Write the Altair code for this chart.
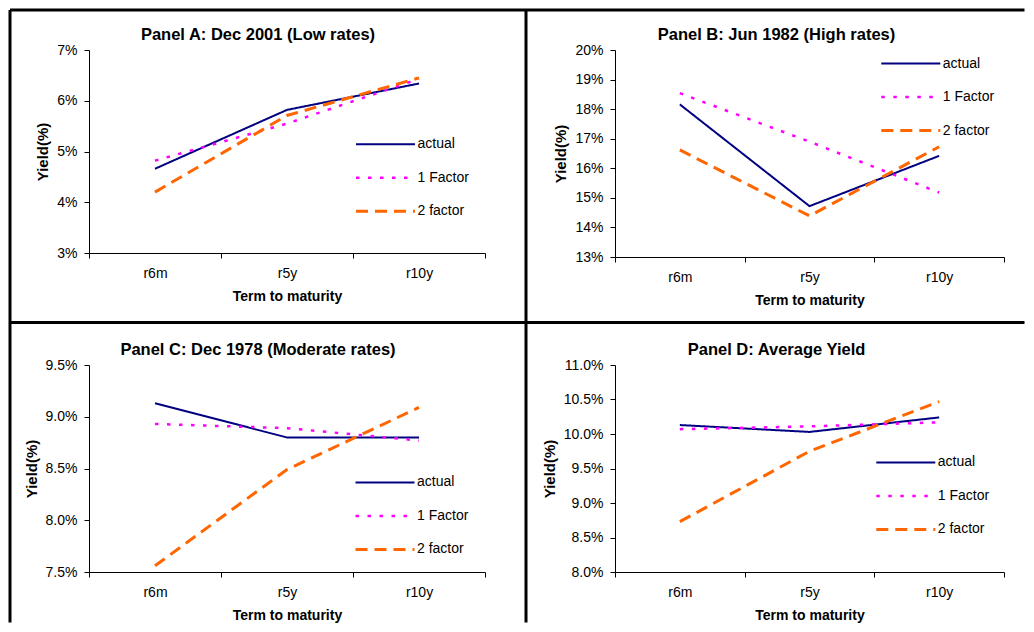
import altair as alt
import pandas as pd

# ---------------- data ----------------
terms = ["r6m", "r5y", "r10y"]
series_names = ["actual", "1 Factor", "2 factor"]

a_actual = [4.66, 5.82, 6.34]
a_one = [4.82, 5.55, 6.43]
a_two = [4.20, 5.71, 6.45]

b_actual = [18.16, 14.72, 16.42]
b_one = [18.54, 16.90, 15.18]
b_two = [16.62, 14.39, 16.73]

c_actual = [9.13, 8.80, 8.80]
c_one = [8.93, 8.89, 8.77]
c_two = [7.56, 8.49, 9.09]

d_actual = [10.13, 10.03, 10.24]
d_one = [10.07, 10.11, 10.17]
d_two = [8.73, 9.75, 10.47]

a_ticks = [3, 4, 5, 6, 7]
b_ticks = [13, 14, 15, 16, 17, 18, 19, 20]
c_ticks = [7.5, 8.0, 8.5, 9.0, 9.5]
d_ticks = [8.0, 8.5, 9.0, 9.5, 10.0, 10.5, 11.0]

titles = [
    "Panel A: Dec 2001 (Low rates)",
    "Panel B: Jun 1982 (High rates)",
    "Panel C: Dec 1978 (Moderate rates)",
    "Panel D: Average Yield",
]

# ---------------- style ----------------
FONT = "Liberation Sans"
colors = ["#000080", "#FF00FF", "#FF6600"]
dashes = [[1, 0], [3.5, 8.5], [12, 7]]
widths = [2, 3, 2.5]
one_row = alt.Data(values=[{"k": 0}])


def panel(title, actual, one, two, ticks, decimals, w, h, lx, ly, tx, borders=False):
    df = pd.DataFrame({
        "term": terms * 3,
        "series": [series_names[0]] * 3 + [series_names[1]] * 3 + [series_names[2]] * 3,
        "y": actual + one + two,
    })
    leg = alt.Legend(
        orient="none", legendX=lx, legendY=ly, title=None, symbolType="stroke",
        symbolSize=3481, labelFont=FONT, labelFontSize=14, labelColor="black",
        labelOffset=1, clipHeight=20, rowPadding=13.5, padding=0,
    )
    lines = alt.Chart(df).mark_line().encode(
        x=alt.X(
            "term:N", sort=terms, bandPosition=0.5,
            scale=alt.Scale(type="band", domain=terms, paddingInner=0, paddingOuter=0),
            axis=alt.Axis(
                title="Term to maturity", tickBand="extent", labelAngle=0,
                labelFont=FONT, labelFontSize=14, labelColor="black", labelPadding=8,
                titleFont=FONT, titleFontSize=14, titleFontWeight="bold", titleColor="black",
                titlePadding=9, domainColor="black", tickColor="black", tickSize=5,
                grid=False,
            ),
        ),
        y=alt.Y(
            "y:Q",
            scale=alt.Scale(domain=[ticks[0], ticks[-1]], nice=False, zero=False),
            axis=alt.Axis(
                values=ticks, title="Yield(%)",
                labelExpr="format(datum.value, '.%df') + '%%'" % decimals,
                labelFont=FONT, labelFontSize=14, labelColor="black", labelPadding=7,
                titleFont=FONT, titleFontSize=15, titleFontWeight="bold", titleColor="black",
                titlePadding=6, domainColor="black", tickColor="black", tickSize=5,
                grid=False,
            ),
        ),
        color=alt.Color("series:N", scale=alt.Scale(domain=series_names, range=colors), legend=leg),
        strokeDash=alt.StrokeDash("series:N", scale=alt.Scale(domain=series_names, range=dashes), legend=leg),
        strokeWidth=alt.StrokeWidth("series:N", scale=alt.Scale(domain=series_names, range=widths), legend=leg),
    )
    head = alt.Chart(one_row).mark_text(
        font=FONT, fontSize=16.5, fontWeight="bold", color="black",
        align="center", baseline="alphabetic",
    ).encode(x=alt.value(tx), y=alt.value(-10.5), text=alt.value(title))
    layers = [lines, head]
    if borders:
        bw = 3
        left, top, right, bottom = -79, -40, 935.5, 572.5
        midx, midy = 437, 272.5
        rule = alt.Chart(one_row).mark_rule(color="black", strokeWidth=bw)
        layers += [
            rule.encode(x=alt.value(left), x2=alt.value(right), y=alt.value(top)),
            rule.encode(x=alt.value(left), x2=alt.value(right), y=alt.value(midy)),
            rule.encode(x=alt.value(left), y=alt.value(top), y2=alt.value(bottom)),
            rule.encode(x=alt.value(midx), y=alt.value(top), y2=alt.value(bottom)),
        ]
    return alt.layer(*layers).properties(width=w, height=h).resolve_scale(
        color="independent", strokeDash="independent", strokeWidth="independent")


pA = panel(titles[0], a_actual, a_one, a_two, a_ticks, 0, 396, 203, 265.5, 84.3, 169, borders=True)
pB = panel(titles[1], b_actual, b_one, b_two, b_ticks, 0, 389, 207, 264.8, 3.6, 161.5)
pC = panel(titles[2], c_actual, c_one, c_two, c_ticks, 1, 396, 207, 265, 107.4, 169)
pD = panel(titles[3], d_actual, d_one, d_two, d_ticks, 1, 389, 207, 259.8, 87.4, 161.5)

res = dict(x="independent", y="independent", color="independent",
           strokeDash="independent", strokeWidth="independent")

chart = alt.concat(
    pA, pB, pC, pD, columns=2, spacing={"row": 108, "column": 130}, bounds="flush"
).resolve_scale(**res).resolve_legend(
    color="independent", strokeDash="independent", strokeWidth="independent"
).properties(padding=0, background="white").configure_view(stroke=None)

chart.save("out.html", embed_options={"renderer": "svg", "actions": False})
